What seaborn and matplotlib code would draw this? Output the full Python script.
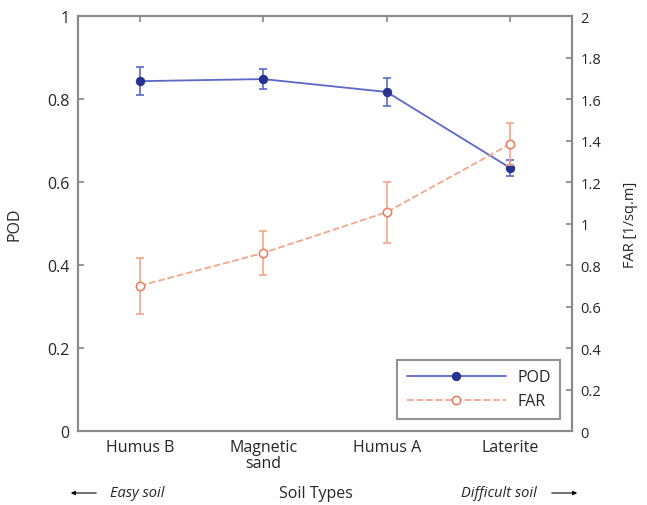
import matplotlib
matplotlib.use("Agg")
import matplotlib.pyplot as plt
import seaborn as sns
import numpy as np
import pandas as pd

categories = ["Humus B", "Magnetic\nsand", "Humus A", "Laterite"]
pod = [0.843, 0.848, 0.817, 0.634]
pod_err = [0.033, 0.024, 0.033, 0.02]
far = [0.70, 0.858, 1.055, 1.383]
far_err = [0.135, 0.106, 0.147, 0.10]
left_ticks = [0, 0.2, 0.4, 0.6, 0.8, 1]
left_labels = ["0", "0.2", "0.4", "0.6", "0.8", "1"]
right_ticks = [0, 0.2, 0.4, 0.6, 0.8, 1, 1.2, 1.4, 1.6, 1.8, 2]
right_labels = ["0", "0.2", "0.4", "0.6", "0.8", "1", "1.2", "1.4", "1.6", "1.8", "2"]

sns.set_theme(style="white")
plt.rcParams['font.family'] = ['Open Sans', 'DejaVu Sans']

POD_LINE = "#5a68c8"
POD_MARK = "#27338f"
FAR_LINE = "#f4a58a"
FAR_MARK = "#ec7a5a"
SPINE = "#8a8a8a"

fig = plt.figure(figsize=(6.47, 5.06), dpi=100)
ax = fig.add_axes([0.1206, 0.1462, 0.7634, 0.8202])
ax2 = ax.twinx()

x = np.arange(len(categories))
df = pd.DataFrame({"x": x, "pod": pod, "far": far})

ax.errorbar(x, pod, yerr=pod_err, fmt="none", ecolor=POD_LINE, elinewidth=1.2, capsize=3, capthick=1.2, zorder=2)
sns.lineplot(data=df, x="x", y="pod", ax=ax, color=POD_LINE, linewidth=1.3, marker="o", markersize=6,
             markerfacecolor=POD_MARK, markeredgecolor=POD_MARK, label="POD", legend=False, zorder=3)

ax2.errorbar(x, far, yerr=far_err, fmt="none", ecolor=FAR_LINE, elinewidth=1.2, capsize=3, capthick=1.2, zorder=2)
sns.lineplot(data=df, x="x", y="far", ax=ax2, color=FAR_LINE, linewidth=1.3, linestyle="--", marker="o", markersize=6,
             markerfacecolor="white", markeredgecolor=FAR_MARK, markeredgewidth=1.1, label="FAR", legend=False, zorder=3)

ax.set_xlim(-0.5, 3.5)
ax.set_ylim(0, 1)
ax2.set_ylim(0, 2)
ax.set_xticks(x)
ax.set_xticklabels(categories, fontsize=11.5, linespacing=0.95)
ax.set_yticks(left_ticks)
ax.set_yticklabels(left_labels, fontsize=11.5)
ax2.set_yticks(right_ticks)
ax2.set_yticklabels(right_labels, fontsize=10.5)
ax.set_xlabel("")
ax.set_ylabel("POD", fontsize=11.5, labelpad=18)
ax2.set_ylabel("FAR [1/sq.m]", fontsize=10.5, labelpad=16)

ax.tick_params(axis="both", direction="in", length=4, color=SPINE, top=True, pad=6)
ax.tick_params(axis="y", right=False)
ax2.tick_params(axis="y", direction="in", length=4, color=SPINE, pad=6)
for a in (ax, ax2):
    for s in a.spines.values():
        s.set_color(SPINE)
        s.set_linewidth(1.5)

h1, l1 = ax.get_legend_handles_labels()
h2, l2 = ax2.get_legend_handles_labels()
leg = ax2.legend(h1 + h2, l1 + l2, loc="lower right", bbox_to_anchor=(0.976, 0.029), fontsize=11.5,
                 frameon=True, fancybox=False, edgecolor="#777777", handlelength=6.2, handletextpad=0.7,
                 borderpad=0.6, borderaxespad=0)
leg.get_frame().set_linewidth(1.5)

fig.text(316 / 647, 1 - 494 / 506, "Soil Types", ha="center", va="center", fontsize=11.5)
fig.text(110 / 647, 1 - 494 / 506, "Easy soil", ha="left", va="center", fontsize=10.5, style="italic")
fig.text(537 / 647, 1 - 494 / 506, "Difficult soil", ha="right", va="center", fontsize=10.5, style="italic")
fig.add_artist(matplotlib.patches.FancyArrowPatch((99 / 647, 1 - 494 / 506), (68 / 647, 1 - 494 / 506),
                                                  transform=fig.transFigure, arrowstyle="-|>", mutation_scale=6,
                                                  color="black", lw=0.8))
fig.add_artist(matplotlib.patches.FancyArrowPatch((549 / 647, 1 - 494 / 506), (580 / 647, 1 - 494 / 506),
                                                  transform=fig.transFigure, arrowstyle="-|>", mutation_scale=6,
                                                  color="black", lw=0.8))

fig.savefig("out.png", dpi=100)
